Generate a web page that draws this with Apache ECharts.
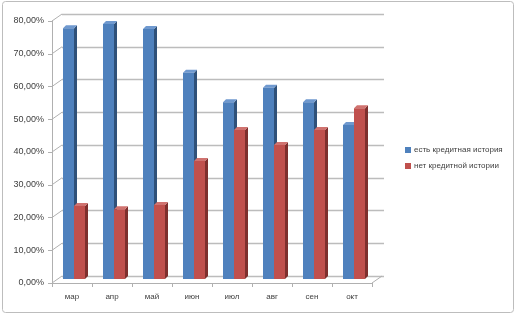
<!DOCTYPE html>
<html><head><meta charset="utf-8">
<script src="https://cdn.jsdelivr.net/npm/echarts@6/dist/echarts.min.js"></script>
<style>html,body{margin:0;padding:0;background:#fff}#c{width:516px;height:316px}</style>
</head><body><div id="c"></div>
<script>
var categories = ['мар','апр','май','июн','июл','авг','сен','окт'];
var seriesNames = ['есть кредитная история','нет кредитной истории'];
var hasHistory = [0.766, 0.779, 0.763, 0.630, 0.540, 0.584, 0.540, 0.470];
var noHistory  = [0.223, 0.213, 0.226, 0.360, 0.455, 0.409, 0.455, 0.521];
var yTicks = [0, 0.1, 0.2, 0.3, 0.4, 0.5, 0.6, 0.7, 0.8];

var FONT = 'Liberation Sans';
var DX = 10, DY = -7;      // depth offset of back wall
var BDX = 3, BDY = -3;     // bar depth
var BSHIFT = -4;           // bar placement depth (vertical shift)
var colors = [
  {front:'#4f81bd', side:'#2f5179', top:'#6f99cf'},
  {front:'#c0504d', side:'#7e2f2d', top:'#d0726f'}
];

function barItem(si){
  return function(params, api){
    var idx = api.value(0), v = api.value(1);
    var pTop = api.coord([idx, v]), pBase = api.coord([idx, 0]);
    var w = 11;
    var x0 = pTop[0] + (si === 0 ? -9 : 2);
    var yt = pTop[1] + BSHIFT, yb = pBase[1] + BSHIFT;
    var c = colors[si];
    return {type:'group', children:[
      {type:'polygon', shape:{points:[[x0+w,yt],[x0+w+BDX,yt+BDY],[x0+w+BDX,yb+BDY],[x0+w,yb]]}, style:{fill:c.side}},
      {type:'polygon', shape:{points:[[x0,yt],[x0+w,yt],[x0+w+BDX,yt+BDY],[x0+BDX,yt+BDY]]}, style:{fill:c.top}},
      {type:'rect', shape:{x:x0, y:yt, width:w, height:yb-yt}, style:{fill:c.front}}
    ]};
  };
}

var chart = echarts.init(document.getElementById('c'), null, {renderer:'canvas'});
chart.setOption({
  animation:false,
  textStyle:{fontFamily:FONT},
  graphic:[{type:'rect', shape:{x:2.5, y:1.5, width:511, height:311, r:3}, style:{fill:'none', stroke:'#bdbdbd', lineWidth:1}, z:-10}],
  legend:{
    orient:'vertical', left:400, top:141, itemWidth:6, itemHeight:6, itemGap:8, icon:'rect',
    textStyle:{fontSize:8, color:'#404040', fontFamily:FONT, padding:[0,0,0,-2]},
    data:seriesNames
  },
  grid:[
    {left:52, top:21, width:320, height:262},
    {left:62, top:14, width:322, height:262}
  ],
  xAxis:[
    {type:'category', gridIndex:0, data:categories,
     axisLine:{lineStyle:{color:'#b0b0b0'}},
     axisTick:{show:true, length:4, lineStyle:{color:'#b0b0b0'}},
     axisLabel:{color:'#404040', fontSize:8, margin:10, fontFamily:FONT}},
    {type:'category', gridIndex:1, data:categories, show:false}
  ],
  yAxis:[
    {type:'value', gridIndex:0, min:0, max:0.8, interval:0.1,
     axisLine:{show:true, lineStyle:{color:'#b0b0b0'}},
     axisTick:{show:true, length:4, lineStyle:{color:'#b0b0b0'}},
     splitLine:{show:false},
     axisLabel:{color:'#404040', fontSize:9, margin:8, fontFamily:FONT,
       formatter:function(v){return (v*100).toFixed(2).replace('.',',')+'%';}}},
    {type:'value', gridIndex:1, min:0, max:0.8, interval:0.1,
     axisLine:{show:false}, axisTick:{show:false}, axisLabel:{show:false},
     splitLine:{show:true, lineStyle:{color:'#bcbcbc', width:1.3}}}
  ],
  series:[
    {type:'custom', name:'walls', xAxisIndex:0, yAxisIndex:0, silent:true, z:1,
     data:yTicks.map(function(t){return [0,t];}),
     renderItem:function(params, api){
       var y = api.coord([0, api.value(1)])[1];
       var x = params.coordSys.x;
       var ch = [{type:'line', shape:{x1:x, y1:y, x2:x+DX, y2:y+DY}, style:{stroke:'#b0b0b0', lineWidth:1}}];
       if (api.value(1) === 0) {
         var xr = params.coordSys.x + params.coordSys.width;
         ch.push({type:'line', shape:{x1:xr, y1:y, x2:xr+DX, y2:y+DY}, style:{stroke:'#b0b0b0', lineWidth:1}});
       }
       return {type:'group', children:ch};
     }},
    {type:'custom', name:seriesNames[0], xAxisIndex:0, yAxisIndex:0, z:2,
     itemStyle:{color:colors[0].front},
     data:hasHistory.map(function(v,i){return [i,v];}),
     renderItem:barItem(0)},
    {type:'custom', name:seriesNames[1], xAxisIndex:0, yAxisIndex:0, z:3,
     itemStyle:{color:colors[1].front},
     data:noHistory.map(function(v,i){return [i,v];}),
     renderItem:barItem(1)}
  ]
});
</script></body></html>
